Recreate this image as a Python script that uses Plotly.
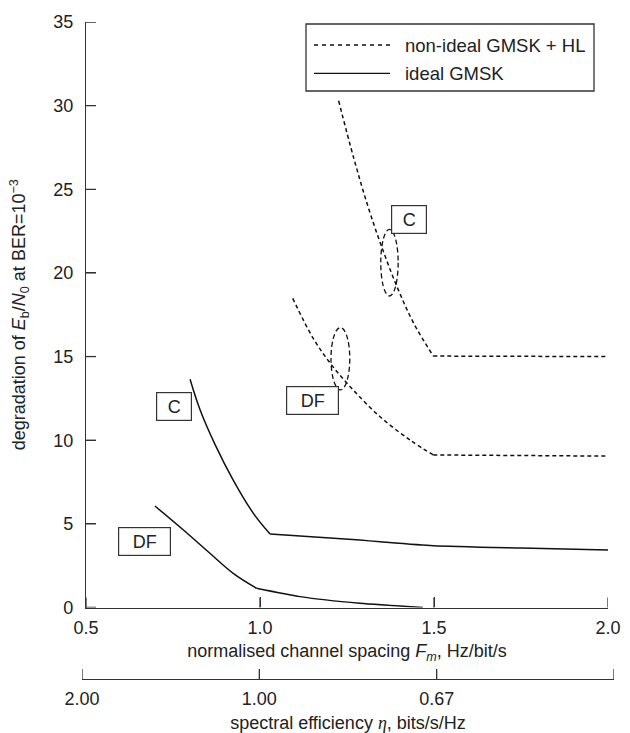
import plotly.graph_objects as go

# ---- data ----
# each series: curved branch (down to the knee) and the flat branch after the knee
fm_ideal_c = [0.799, 0.828, 0.871, 0.923, 0.981, 1.029]
deg_ideal_c = [13.65, 11.81, 9.74, 7.62, 5.63, 4.39]
fm_ideal_c_flat = [1.029, 1.287, 1.345, 1.498, 1.75, 2.0]
deg_ideal_c_flat = [4.39, 4.03, 3.93, 3.69, 3.55, 3.44]

fm_ideal_df = [0.698, 0.780, 0.856, 0.923, 0.990]
deg_ideal_df = [6.07, 4.63, 3.24, 2.04, 1.15]
fm_ideal_df_flat = [0.990, 1.115, 1.287, 1.468]
deg_ideal_df_flat = [1.15, 0.65, 0.25, 0.0]

fm_nonideal_c = [1.226, 1.269, 1.312, 1.356, 1.399, 1.442, 1.498]
deg_nonideal_c = [30.29, 26.89, 23.86, 21.20, 18.91, 16.98, 15.03]
fm_nonideal_c_flat = [1.498, 2.0]
deg_nonideal_c_flat = [15.03, 15.0]

fm_nonideal_df = [1.094, 1.153, 1.206, 1.268, 1.345, 1.431, 1.498]
deg_nonideal_df = [18.48, 16.09, 14.49, 13.0, 11.40, 10.01, 9.12]
fm_nonideal_df_flat = [1.498, 2.0]
deg_nonideal_df_flat = [9.12, 9.05]

x_ticks = [0.5, 1.0, 1.5, 2.0]
x_ticklabels = ["0.5", "1.0", "1.5", "2.0"]
eta_ticklabels = ["2.00", "1.00", "0.67", "0.50"]
y_ticks = [0, 5, 10, 15, 20, 25, 30, 35]

legend_names = ["non-ideal GMSK + HL", "ideal GMSK"]

# curve group labels: (text, x, y, box width)
group_labels = [
    ("C", 0.752, 12.0, 32),
    ("DF", 0.668, 3.93, 49),
    ("DF", 1.152, 12.40, 49),
    ("C", 1.428, 23.22, 32),
]
# ellipses: (x centre, y centre, half-width, half-height)
ellipses = [
    (1.372, 20.61, 0.025, 1.99),
    (1.231, 14.87, 0.027, 1.86),
]

FONT = "Liberation Sans, Arial, Helvetica, sans-serif"
INK = "#222222"
AX = "#333333"
W, H = 630, 733
ML, MR, MT, MB = 82, 16, 22, 54
PW = W - ML - MR
PH = H - MT - MB
TICKLEN = 10


def px(xpix):
    return (xpix - ML) / PW


def py(ypix):
    return (H - MB - ypix) / PH


X_AXIS_PIX = 607.5
X2_AXIS_PIX = 679.0
Y_AXIS_PIX = 86

dash_curve = "4px,3px"
solid = dict(color="#111", width=1.5)
dashed = dict(color="#111", width=1.5, dash=dash_curve)

fig = go.Figure()
series = [
    (fm_ideal_c, deg_ideal_c, fm_ideal_c_flat, deg_ideal_c_flat, solid),
    (fm_ideal_df, deg_ideal_df, fm_ideal_df_flat, deg_ideal_df_flat, solid),
    (fm_nonideal_c, deg_nonideal_c, fm_nonideal_c_flat, deg_nonideal_c_flat, dashed),
    (fm_nonideal_df, deg_nonideal_df, fm_nonideal_df_flat, deg_nonideal_df_flat, dashed),
]
for xc, yc, xf, yf, ln in series:
    fig.add_trace(go.Scatter(x=xc, y=yc, mode="lines",
                             line=dict(shape="spline", smoothing=1.0, **ln),
                             showlegend=False, hoverinfo="skip"))
    fig.add_trace(go.Scatter(x=xf, y=yf, mode="lines",
                             line=dict(shape="spline", smoothing=0.6, **ln),
                             showlegend=False, hoverinfo="skip"))

# invisible trace to carry the spectral-efficiency axis
fig.add_trace(go.Scatter(x=x_ticks, y=[0] * len(x_ticks), xaxis="x2", yaxis="y",
                         mode="lines", line=dict(width=0), opacity=0,
                         hoverinfo="skip", showlegend=False))

shapes = []
for (cx, cy, hw, hh) in ellipses:
    shapes.append(dict(type="circle", xref="x", yref="y",
                       x0=cx - hw, x1=cx + hw, y0=cy - hh, y1=cy + hh,
                       line=dict(color="#111", width=1.3, dash="5px,3px")))

# inward tick marks
for v in x_ticks:
    shapes.append(dict(type="line", xref="x", yref="paper", x0=v, x1=v,
                       y0=py(X_AXIS_PIX), y1=py(X_AXIS_PIX - TICKLEN),
                       line=dict(color=AX, width=1.3)))
    shapes.append(dict(type="line", xref="x2", yref="paper", x0=v, x1=v,
                       y0=py(X2_AXIS_PIX), y1=py(X2_AXIS_PIX - TICKLEN),
                       line=dict(color=AX, width=1.3)))
for v in y_ticks:
    shapes.append(dict(type="line", xref="paper", yref="y", x0=px(Y_AXIS_PIX),
                       x1=px(Y_AXIS_PIX + TICKLEN), y0=v, y1=v,
                       line=dict(color=AX, width=1.3)))

# manual legend
shapes.append(dict(type="rect", xref="paper", yref="paper",
                   x0=px(306), x1=px(594), y0=py(91), y1=py(24),
                   line=dict(color=AX, width=1.3), fillcolor="white", layer="above"))
shapes.append(dict(type="line", xref="paper", yref="paper",
                   x0=px(314), x1=px(390), y0=py(45), y1=py(45),
                   line=dict(color="#111", width=1.3, dash="4px,4px"), layer="above"))
shapes.append(dict(type="line", xref="paper", yref="paper",
                   x0=px(314), x1=px(390), y0=py(73.3), y1=py(73.3),
                   line=dict(color="#111", width=1.3), layer="above"))

annotations = []
annotations.append(dict(text=legend_names[0], xref="paper", yref="paper",
                        x=px(403), y=py(45), xanchor="left", yanchor="middle",
                        showarrow=False, font=dict(size=18.5, color=INK, family=FONT)))
annotations.append(dict(text=legend_names[1], xref="paper", yref="paper",
                        x=px(403), y=py(73.5), xanchor="left", yanchor="middle",
                        showarrow=False, font=dict(size=18.5, color=INK, family=FONT)))

for (t, lx, ly, bw) in group_labels:
    annotations.append(dict(text=t, x=lx, y=ly, xref="x", yref="y",
                            showarrow=False, xanchor="center", yanchor="middle",
                            width=bw, height=25, borderpad=1,
                            bordercolor=AX, borderwidth=1.2, bgcolor="white",
                            font=dict(size=18, color=INK, family=FONT)))

axis_common = dict(showline=True, linecolor=AX, linewidth=1.3,
                   ticks="inside", ticklen=TICKLEN, tickwidth=1.3, tickcolor=AX,
                   showgrid=False, zeroline=False,
                   tickfont=dict(size=18, color=INK, family=FONT))

fig.update_layout(
    width=W, height=H,
    margin=dict(l=ML, r=MR, t=MT, b=MB, autoexpand=False),
    plot_bgcolor="rgba(0,0,0,0)", paper_bgcolor="white",
    font=dict(family=FONT, size=18, color=INK),
    showlegend=False,
    xaxis=dict(range=[0.5, 2.0], domain=[px(86), px(608)], anchor="y",
               tickvals=x_ticks, ticktext=x_ticklabels, ticklabelstandoff=4,
               title=dict(text="normalised channel spacing <i>F<sub>m</sub></i>, Hz/bit/s",
                          font=dict(size=18, color=INK, family=FONT), standoff=7),
               **axis_common),
    xaxis2=dict(range=[0.5, 2.0], domain=[0, 1], anchor="free", position=0,
                tickvals=x_ticks, ticktext=eta_ticklabels, ticklabelstandoff=3,
                title=dict(text="spectral efficiency <span style=\"font-family:'Liberation Serif'\"><i>η</i></span>, bits/s/Hz",
                           font=dict(size=18, color=INK, family=FONT), standoff=16),
                **axis_common),
    yaxis=dict(range=[0, 35], domain=[py(X_AXIS_PIX), 1], anchor="x",
               tickvals=y_ticks, ticklabelstandoff=8,
               title=dict(text="degradation of <i>E</i><sub>b</sub>/<i>N</i><sub>0</sub> at BER=10<sup>−3</sup>",
                          font=dict(size=18, color=INK, family=FONT), standoff=22),
               **axis_common),
    shapes=shapes,
    annotations=annotations,
)

fig.write_html("out.html", config={"displayModeBar": False},
               post_script="document.body.style.margin='0';document.body.style.padding='0';")
